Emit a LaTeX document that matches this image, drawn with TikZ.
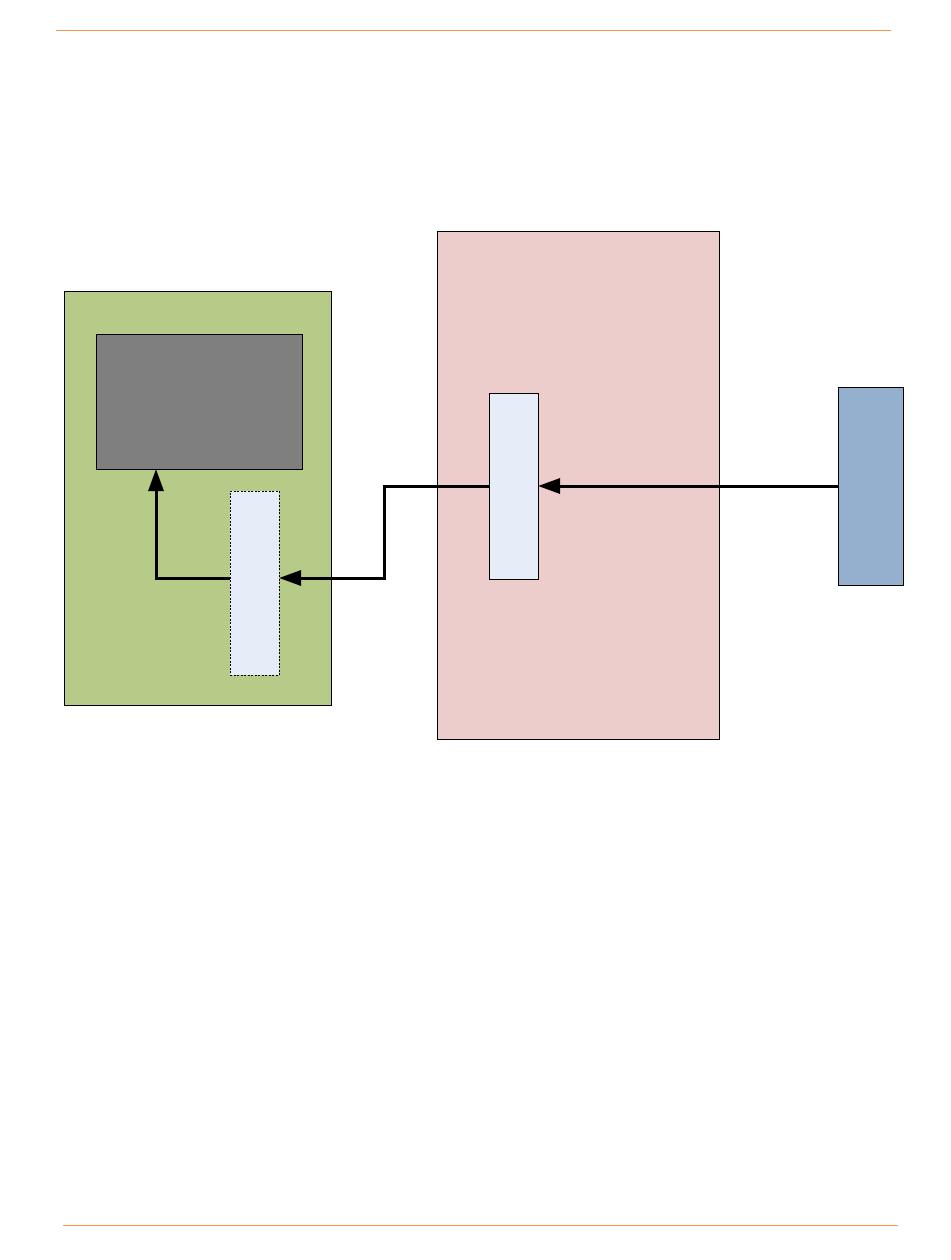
\documentclass[tikz,border=0pt]{standalone}
\usepackage{xcolor}
\usetikzlibrary{arrows.meta,calc}

\definecolor{boardgreen}{RGB}{183,203,136}
\definecolor{screengray}{RGB}{127,127,127}
\definecolor{portblue}{RGB}{230,237,248}
\definecolor{hostpink}{RGB}{237,205,204}
\definecolor{devblue}{RGB}{149,176,207}
\definecolor{ruleorange}{RGB}{240,150,80}

\begin{document}
\begin{tikzpicture}[x=1pt, y=-1pt,
  box/.style={rectangle, draw=black, line width=0.8pt, inner sep=0pt, outer sep=0pt},
  flow/.style={line width=3pt, -{Triangle[length=22pt,width=15pt]}},
  rule/.style={ruleorange, line width=1pt}]
  \useasboundingbox (0,0) rectangle (950,1260);
  \draw[rule] (56,31) -- (891,31);
  \draw[rule] (63,1225) -- (898,1225);
  % boxes
  \node[box, fill=boardgreen, minimum width=267pt, minimum height=414pt] (board) at (197.5,498) {};
  \node[box, fill=screengray, minimum width=206pt, minimum height=135pt] (screen) at (199,401.5) {};
  \node[box, fill=portblue, dashed, dash pattern=on 2pt off 1.5pt, line width=0.6pt,
        minimum width=49pt, minimum height=184pt] (slot) at (254.5,583) {};
  \node[box, fill=hostpink, minimum width=282pt, minimum height=508pt] (host) at (578,485) {};
  \node[box, fill=portblue, minimum width=49pt, minimum height=186pt] (relay) at (513.5,486) {};
  \node[box, fill=devblue, minimum width=65pt, minimum height=198pt] (dev) at (870.5,486) {};
  % connectors
  \coordinate (turnA) at (384,486);
  \coordinate (turnB) at (384,578);
  \coordinate (turnC) at (156,578);
  \draw[flow] (dev.west) -- (relay.east);
  \draw[flow] (relay.west) -- (turnA) -- (turnB) -- (slot.east |- turnB);
  \draw[flow] (slot.west |- turnC) -- (turnC) -- (screen.south -| turnC);
\end{tikzpicture}
\end{document}
